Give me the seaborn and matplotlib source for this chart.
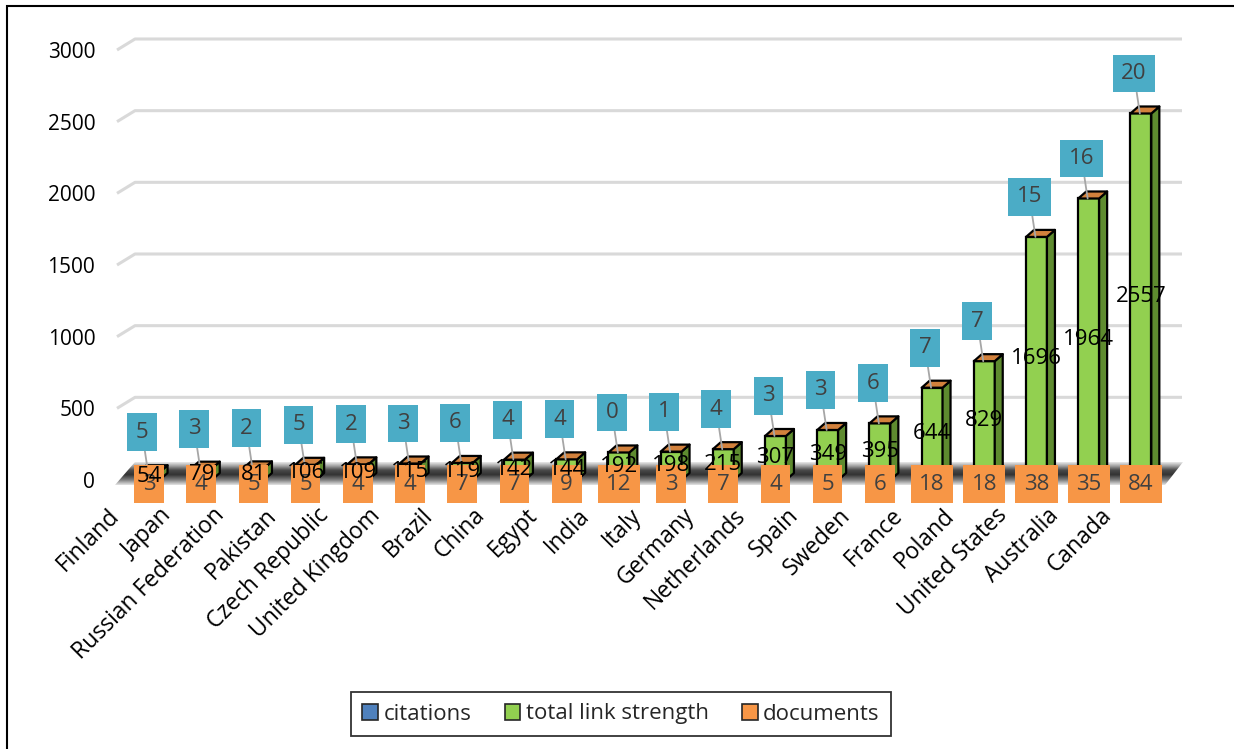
import numpy as np
import pandas as pd
import matplotlib
matplotlib.use("Agg")
import matplotlib.pyplot as plt
import matplotlib.transforms as mtransforms
from matplotlib.patches import Polygon, Patch, Rectangle
import seaborn as sns

# ---------------- data ----------------
countries = ["Finland", "Japan", "Russian Federation", "Pakistan", "Czech Republic",
             "United Kingdom", "Brazil", "China", "Egypt", "India", "Italy", "Germany",
             "Netherlands", "Spain", "Sweden", "France", "Poland", "United States",
             "Australia", "Canada"]
link_strength = [54, 79, 81, 106, 109, 115, 119, 142, 144, 192, 198, 215,
                 307, 349, 395, 644, 829, 1696, 1964, 2557]
documents = [3, 4, 5, 5, 4, 4, 7, 7, 9, 12, 3, 7, 4, 5, 6, 18, 18, 38, 35, 84]
citations = [5, 3, 2, 5, 2, 3, 6, 4, 4, 0, 1, 4, 3, 3, 6, 7, 7, 15, 16, 20]
yticks = [0, 500, 1000, 1500, 2000, 2500, 3000]
legend_labels = ["citations", "total link strength", "documents"]

# ---------------- style ----------------
sns.set_theme(style="white")
plt.rcParams["font.family"] = ["Open Sans", "DejaVu Sans"]

C_GREEN = "#92D050"
C_SIDE = "#5E8B2F"
C_TOP = "#D2813C"
C_ORANGE = "#F79646"
C_TEAL = "#4BACC6"
C_BLUE = "#4F81BD"
C_GRID = "#D9D9D9"
FS = 15
FS_BOX = 16
FS_CAT = 16.5

W, H = 1234, 749
fig = plt.figure(figsize=(W / 100, H / 100), dpi=100)
fig.patch.set_facecolor("white")

x0_px, x1_px = 123, 1167
y0_px, y1_px = 480, 50
ax = fig.add_axes([x0_px / W, 1 - y0_px / H, (x1_px - x0_px) / W, (y0_px - y1_px) / H])
ax.set_xlim(-0.5, 19.5)
ax.set_ylim(0, 3000)
ppx = (x1_px - x0_px) / 20.0
ppy = (y0_px - y1_px) / 3000.0


def dxd(px):
    return px / ppx


def dyd(px):
    return px / ppy


def px2x(px):
    return -0.5 + dxd(px - x0_px)


def px2y(py):
    return -dyd(py - y0_px)


# back-wall gridlines
for v in yticks[1:]:
    ax.plot([px2x(117), px2x(135), px2x(1182)], [v, v + dyd(11), v + dyd(11)],
            color=C_GRID, lw=2.2, clip_on=False, zorder=0.5, solid_capstyle="butt")

# floor with gradient
floor_pts = [(px2x(115), px2y(485)), (px2x(135), px2y(462)),
             (px2x(1183), px2y(462)), (px2x(1165), px2y(485))]
floor = Polygon(floor_pts, closed=True, fc="none", ec="none", transform=ax.transData)
ax.add_patch(floor)
stops = [(0.0, "#E8E8E8"), (0.12, "#B5B5B5"), (0.35, "#4A4A4A"), (0.55, "#333333"),
         (0.8, "#858585"), (1.0, "#E3E3E3")]
cmap = matplotlib.colors.LinearSegmentedColormap.from_list("floor", stops)
grad = np.linspace(0, 1, 64).reshape(-1, 1)
im = ax.imshow(grad, cmap=cmap, aspect="auto", interpolation="bilinear",
               extent=[px2x(115), px2x(1183), px2y(485), px2y(462)], zorder=1)
im.set_clip_path(floor)
im.set_clip_box(fig.bbox)
ax.set_xlim(-0.5, 19.5)
ax.set_ylim(0, 3000)

# bars
df = pd.DataFrame({"country": countries, "links": link_strength})
sns.barplot(data=df, x="country", y="links", order=countries, color=C_GREEN,
            saturation=1, width=0.4, edgecolor="black", linewidth=1.6, ax=ax, zorder=2)
bars = list(ax.containers[0])
ddx, ddy = dxd(8), dyd(7)
for p in bars:
    x, w, h = p.get_x(), p.get_width(), p.get_height()
    side = Polygon([(x + w, 0), (x + w, h), (x + w + ddx, h + ddy), (x + w + ddx, ddy)],
                   closed=True, fc=C_SIDE, ec="black", lw=1.6, zorder=2, joinstyle="round")
    top = Polygon([(x, h), (x + w, h), (x + w + ddx, h + ddy), (x + ddx, h + ddy)],
                  closed=True, fc=C_TOP, ec="black", lw=1.6, zorder=2.1, joinstyle="round")
    ax.add_patch(side)
    ax.add_patch(top)

# teal labels (citations)
for i, (c, v) in enumerate(zip(citations, link_strength)):
    ax.annotate(str(c), xy=(i - 0.02, v), xytext=(-6, 40), textcoords="offset pixels",
                ha="center", va="center", fontsize=FS_BOX, color="#404040",
                bbox=dict(boxstyle="square,pad=0.38", fc=C_TEAL, ec="none"),
                arrowprops=dict(arrowstyle="-", color="#A6A6A6", lw=1.3,
                                shrinkA=0, shrinkB=0),
                zorder=5, annotation_clip=False)

# orange labels (documents)
for i, d in enumerate(documents):
    ax.annotate(str(d), xy=(i, 0), xytext=(0, -4), textcoords="offset pixels",
                ha="center", va="center", fontsize=FS_BOX, color="#404040",
                bbox=dict(boxstyle="square,pad=0.38", fc=C_ORANGE, ec="none"),
                zorder=6, annotation_clip=False)

# black labels (total link strength)
lbls = ax.bar_label(ax.containers[0], labels=[str(v) for v in link_strength],
                    label_type="center", fontsize=FS_BOX, color="black")
for t in lbls:
    t.set_zorder(8)

# axes cosmetics
for s in ax.spines.values():
    s.set_visible(False)
ax.set_xlabel("")
ax.set_ylabel("")
ax.set_yticks(yticks)
ax.set_yticklabels([str(v) for v in yticks], fontsize=FS, color="black")
ax.tick_params(axis="y", length=0, pad=20)
ax.set_xticks(range(len(countries)))
ax.set_xticklabels(countries, rotation=45, ha="right", va="center",
                   rotation_mode="anchor", fontsize=FS_CAT, color="black")
ax.tick_params(axis="x", length=0, pad=0)
shift = mtransforms.ScaledTranslation(-33 / 100, -32 / 100, fig.dpi_scale_trans)
for t in ax.get_xticklabels():
    t.set_transform(t.get_transform() + shift)
ax.grid(False)
ax.set_facecolor("none")

# legend
handles = [Patch(fc=C_BLUE, ec="#262626", lw=1.2),
           Patch(fc=C_GREEN, ec="#262626", lw=1.2),
           Patch(fc=C_ORANGE, ec="#262626", lw=1.2)]
leg = fig.legend(handles, legend_labels, loc="center", bbox_to_anchor=(621 / W, 1 - 714 / H),
                 ncol=3, frameon=True, fancybox=False, edgecolor="black", fontsize=16,
                 handlelength=0.7, handleheight=0.7, handletextpad=0.25,
                 columnspacing=1.5, borderpad=0.5)
leg.get_frame().set_linewidth(1.3)

# outer chart border
fig.patches.append(Rectangle((7 / W, -0.1), 1.2, 1.1 - 6 / H, transform=fig.transFigure,
                             fill=False, ec="black", lw=1.5))

fig.savefig("out.png", dpi=100, facecolor="white")
